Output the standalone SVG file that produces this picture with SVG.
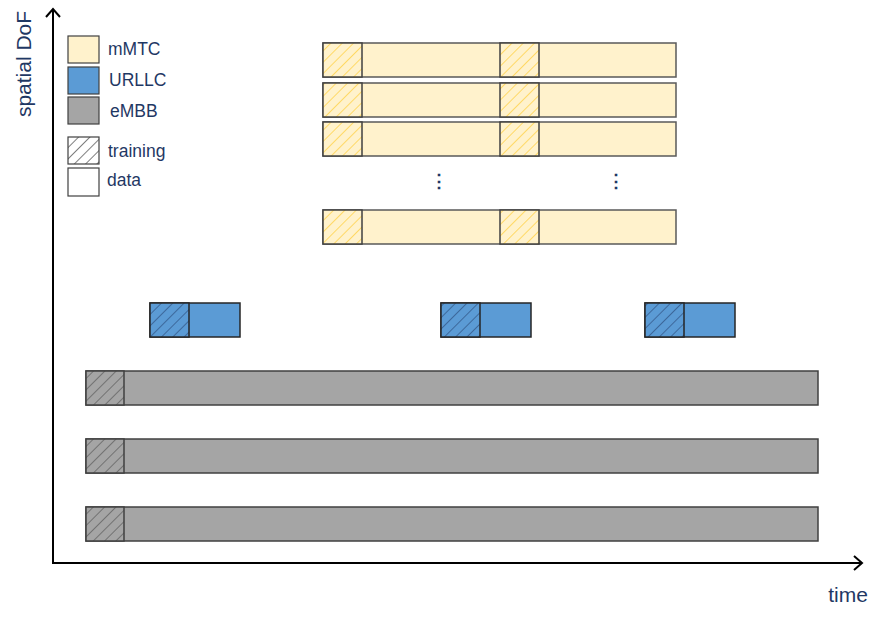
<svg xmlns="http://www.w3.org/2000/svg" width="883" height="621" viewBox="0 0 883 621">
<style>
.t{font-family:"Liberation Sans",Arial,sans-serif;font-size:17.5px;fill:#1F3864}
.big{font-size:21px}
.ax{stroke:#000;stroke-width:2;fill:none}
.m{fill:#FFF2CC;stroke:#595959;stroke-width:1.5}
.mh{fill:url(#hm);stroke:#404040;stroke-width:1.5}
.u{fill:#5B9BD5;stroke:#262626;stroke-width:1.5}
.uh{fill:url(#hu);stroke:#262626;stroke-width:1.5}
.e{fill:#A5A5A5;stroke:#404040;stroke-width:1.5}
.eh{fill:url(#he);stroke:#404040;stroke-width:1.5}
</style>
<defs>
<pattern id="hm" width="8" height="8" patternUnits="userSpaceOnUse" patternTransform="rotate(45)">
<rect width="8" height="8" fill="#FFF2CC"/><line x1="0" y1="0" x2="0" y2="8" stroke="#FFC000" stroke-width="1"/>
</pattern>
<pattern id="hu" width="8" height="8" patternUnits="userSpaceOnUse" patternTransform="rotate(45)">
<rect width="8" height="8" fill="#5B9BD5"/><line x1="0" y1="0" x2="0" y2="8" stroke="#1F3864" stroke-width="1"/>
</pattern>
<pattern id="he" width="8" height="8" patternUnits="userSpaceOnUse" patternTransform="rotate(45)">
<rect width="8" height="8" fill="#A5A5A5"/><line x1="0" y1="0" x2="0" y2="8" stroke="#404040" stroke-width="1"/>
</pattern>
<pattern id="hw" width="8" height="8" patternUnits="userSpaceOnUse" patternTransform="rotate(45)">
<rect width="8" height="8" fill="#FFFFFF"/><line x1="0" y1="0" x2="0" y2="8" stroke="#000" stroke-width="1"/>
</pattern>
</defs>
<g id="axes">
<line class="ax" x1="53" y1="9" x2="53" y2="564"/>
<polyline class="ax" points="46,17 53,9 60,17"/>
<line class="ax" x1="52" y1="563" x2="862" y2="563"/>
<polyline class="ax" points="854,556 862,563 854,570"/>
<text class="t big" x="848" y="602" text-anchor="middle">time</text>
<text class="t big" transform="translate(31,64) rotate(-90)" text-anchor="middle">spatial DoF</text>
</g>
<g id="legend">
<rect x="68" y="36" width="31" height="27" fill="#FFF2CC" stroke="#404040" stroke-width="1.2"/>
<text class="t" x="108" y="55">mMTC</text>
<rect x="68" y="67" width="31" height="27" fill="#5B9BD5" stroke="#404040" stroke-width="1.2"/>
<text class="t" x="109" y="86">URLLC</text>
<rect x="68" y="97" width="31" height="27" fill="#A5A5A5" stroke="#404040" stroke-width="1.2"/>
<text class="t" x="110" y="117">eMBB</text>
<rect x="68" y="137" width="31" height="27" fill="url(#hw)" stroke="#404040" stroke-width="1.2"/>
<text class="t" x="108" y="157">training</text>
<rect x="68" y="168" width="31" height="28" fill="#FFFFFF" stroke="#404040" stroke-width="1.2"/>
<text class="t" x="107" y="186">data</text>
</g>
<g id="mmtc">
<g id="mmtc1"><rect class="m" x="323" y="43" width="353" height="34"/><rect class="mh" x="323" y="43" width="39" height="34"/><rect class="mh" x="500" y="43" width="39" height="34"/></g>
<g id="mmtc2"><rect class="m" x="323" y="83" width="353" height="34"/><rect class="mh" x="323" y="83" width="39" height="34"/><rect class="mh" x="500" y="83" width="39" height="34"/></g>
<g id="mmtc3"><rect class="m" x="323" y="122" width="353" height="34"/><rect class="mh" x="323" y="122" width="39" height="34"/><rect class="mh" x="500" y="122" width="39" height="34"/></g>
<text class="t" x="439" y="187" text-anchor="middle" style="font-weight:bold">⋮</text>
<text class="t" x="616" y="187" text-anchor="middle" style="font-weight:bold">⋮</text>
<g id="mmtc4"><rect class="m" x="323" y="210" width="353" height="34"/><rect class="mh" x="323" y="210" width="39" height="34"/><rect class="mh" x="500" y="210" width="39" height="34"/></g>
</g>
<g id="urllc">
<g id="urllc1"><rect class="u" x="150" y="303" width="90" height="34"/><rect class="uh" x="150" y="303" width="39" height="34"/></g>
<g id="urllc2"><rect class="u" x="441" y="303" width="90" height="34"/><rect class="uh" x="441" y="303" width="39" height="34"/></g>
<g id="urllc3"><rect class="u" x="645" y="303" width="90" height="34"/><rect class="uh" x="645" y="303" width="39" height="34"/></g>
</g>
<g id="embb">
<g id="embb1"><rect class="e" x="86" y="371" width="732" height="34"/><rect class="eh" x="86" y="371" width="38" height="34"/></g>
<g id="embb2"><rect class="e" x="86" y="439" width="732" height="34"/><rect class="eh" x="86" y="439" width="38" height="34"/></g>
<g id="embb3"><rect class="e" x="86" y="507" width="732" height="34"/><rect class="eh" x="86" y="507" width="38" height="34"/></g>
</g>
</svg>
